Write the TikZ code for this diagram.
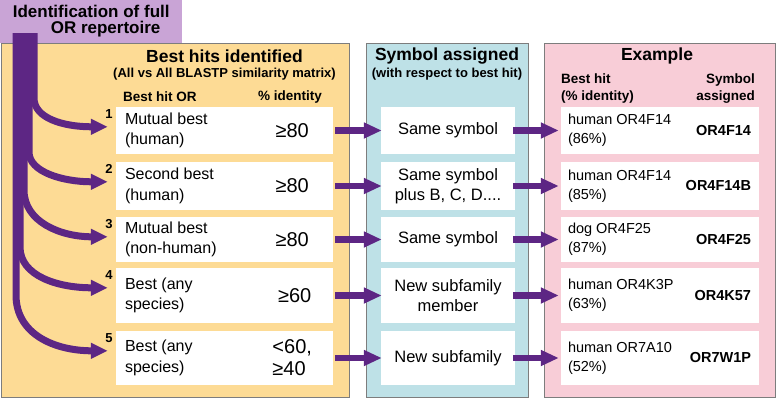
\documentclass[tikz,border=0pt]{standalone}
\usepackage{fontspec}
\setmainfont{Liberation Sans}
\usetikzlibrary{arrows.meta,calc,positioning}
\definecolor{hdrpurple}{RGB}{201,164,214}
\definecolor{flowpurple}{RGB}{93,38,132}
\definecolor{hitsyellow}{RGB}{253,219,149}
\definecolor{symblue}{RGB}{190,225,231}
\definecolor{expink}{RGB}{248,205,215}
\definecolor{panelframe}{RGB}{125,125,125}
\tikzset{
  panel/.style={draw=panelframe, line width=0.9pt, inner sep=0pt, minimum height=354pt, anchor=north west},
  header/.style={fill=hdrpurple, inner sep=0pt, minimum width=182pt, minimum height=42.5pt,
    align=left, font=\bfseries\fontsize{17}{16}\selectfont},
  paneltitle/.style={font=\bfseries\fontsize{17.5}{20}\selectfont, inner sep=0pt},
  subtitle/.style={font=\bfseries\fontsize{13}{15}\selectfont, inner sep=0pt},
  colhead/.style={font=\bfseries\fontsize{13.5}{17}\selectfont, inner sep=0pt},
  hitcell/.style={fill=white, inner sep=0pt, minimum width=217pt},
  symcell/.style={fill=white, inner sep=0pt, minimum width=134pt},
  excell/.style={fill=white, inner sep=0pt, minimum width=198pt},
  crit/.style={font=\fontsize{16}{20.5}\selectfont, inner sep=0pt, align=left, anchor=west},
  pct/.style={font=\fontsize{20}{22}\selectfont, inner sep=0pt, align=left},
  symtext/.style={font=\fontsize{16.5}{20}\selectfont, inner sep=0pt, align=center},
  hittext/.style={font=\fontsize{14.5}{19}\selectfont, inner sep=0pt, align=left, anchor=west},
  newname/.style={font=\bfseries\fontsize{14.5}{17}\selectfont, inner sep=0pt, anchor=east},
  rowno/.style={font=\bfseries\fontsize{13}{15}\selectfont, inner sep=0pt, anchor=north east},
  flow/.style={draw=flowpurple, line width=6.5pt, -{Triangle[length=18pt,width=15pt]}},
  branch/.style={draw=flowpurple, line width=7pt, -{Triangle[length=17pt,width=15pt]}}
}
\begin{document}
\begin{tikzpicture}[x=1pt, y=1pt]
  \useasboundingbox (0,0) rectangle (777,-399);

  % Panels
  \node[panel, fill=hitsyellow, minimum width=348pt] (hits) at (1,-43) {};
  \node[panel, fill=symblue, minimum width=162pt] (symbols) at (366,-43) {};
  \node[panel, fill=expink, minimum width=231pt] (examples) at (544,-43) {};

  \node[header, anchor=north west] (repertoire) at (0,0)
       {Identification of full\\\hspace*{38pt}OR repertoire};

  % Titles
  \node[paneltitle] (hitstitle) at (224.5,-56) {Best hits identified};
  \node[subtitle] (hitssub) at (224.5,-74) {(All vs All BLASTP similarity matrix)};
  \node[paneltitle] (symtitle) at (447,-56) {Symbol assigned};
  \node[subtitle] (symsub) at (447,-74) {(with respect to best hit)};
  \node[paneltitle] (extitle) at (657,-56) {Example};

  \node[colhead, anchor=west] (orhead) at (123,-97) {Best hit OR};
  \node[colhead] (pcthead) at (290,-97) {\% identity};
  \node[colhead, anchor=west, align=left] (besthead) at (561,-88.5) {Best hit\\(\% identity)};
  \node[colhead, anchor=east, align=right] (symhead) at (755,-88.5) {Symbol\\assigned};

  % Rows of cells
  \foreach \i/\y/\h in {1/130.5/47, 2/186/48, 3/239.5/45, 4/295.5/55, 5/358/54} {
    \node[hitcell, minimum height=\h pt] (hit\i) at (224.5,-\y) {};
    \node[symcell, minimum height=\h pt] (sym\i) at (448,-\y) {};
    \node[excell, minimum height=\h pt] (ex\i) at (660,-\y) {};
    \node[rowno] at ([xshift=-3pt, yshift=-2.5pt]hit\i.north west) {\i};
    \coordinate (tip\i) at ($(hit\i.north west)+(-8,-20)$);
    \draw[flow] ([xshift=2pt]hit\i.east) -- ([xshift=1pt]sym\i.west);
    \draw[flow] ([xshift=-2pt]sym\i.east) -- ([xshift=-2pt]ex\i.west);
  }

  \foreach \i/\crit/\pct/\sym/\hit/\name in {
      1/{Mutual best\\(human)}/{≥80}/{Same symbol}/{human OR4F14\\(86\%)}/OR4F14,
      2/{Second best\\(human)}/{≥80}/{Same symbol\\plus B, C, D....}/{human OR4F14\\(85\%)}/OR4F14B,
      3/{Mutual best\\(non-human)}/{≥80}/{Same symbol}/{dog OR4F25\\(87\%)}/OR4F25,
      4/{Best (any\\species)}/{\hspace*{5pt}≥60}/{New subfamily\\member}/{human OR4K3P\\(63\%)}/OR4K57,
      5/{Best (any\\species)}/{<60,\\≥40}/{New subfamily}/{human OR7A10\\(52\%)}/OR7W1P} {
    \node[crit] (crit\i) at ([xshift=9pt]hit\i.west) {\crit};
    \node[pct] (pct\i) at ([xshift=-41pt]hit\i.east) {\pct};
    \node[symtext] (symtxt\i) at (sym\i) {\sym};
    \node[hittext] (hittxt\i) at ([xshift=7pt]ex\i.west) {\hit};
    \node[newname] (name\i) at ([xshift=-8pt]ex\i.east) {\name};
  }

  % Trunk and branches
  \coordinate (trunk) at (12.5,-33);
  \draw[branch] ([xshift=21.5pt]trunk) -- (34,-98)
     .. controls (34,-118) and ($(tip1)+(-45,0)$) .. (tip1);
  \draw[branch] ([xshift=16.5pt]trunk) -- (29,-152)
     .. controls (29,-172) and ($(tip2)+(-45,0)$) .. (tip2);
  \draw[branch] ([xshift=11.5pt]trunk) -- (24,-190)
     .. controls (24,-222) and ($(tip3)+(-47,0)$) .. (tip3);
  \draw[branch] ([xshift=7.5pt]trunk) -- (20,-247)
     .. controls (20,-276) and ($(tip4)+(-50,0)$) .. (tip4);
  \draw[branch] ([xshift=3.5pt]trunk) -- (16,-295)
     .. controls (16,-335) and ($(tip5)+(-52,0)$) .. (tip5);
\end{tikzpicture}
\end{document}
